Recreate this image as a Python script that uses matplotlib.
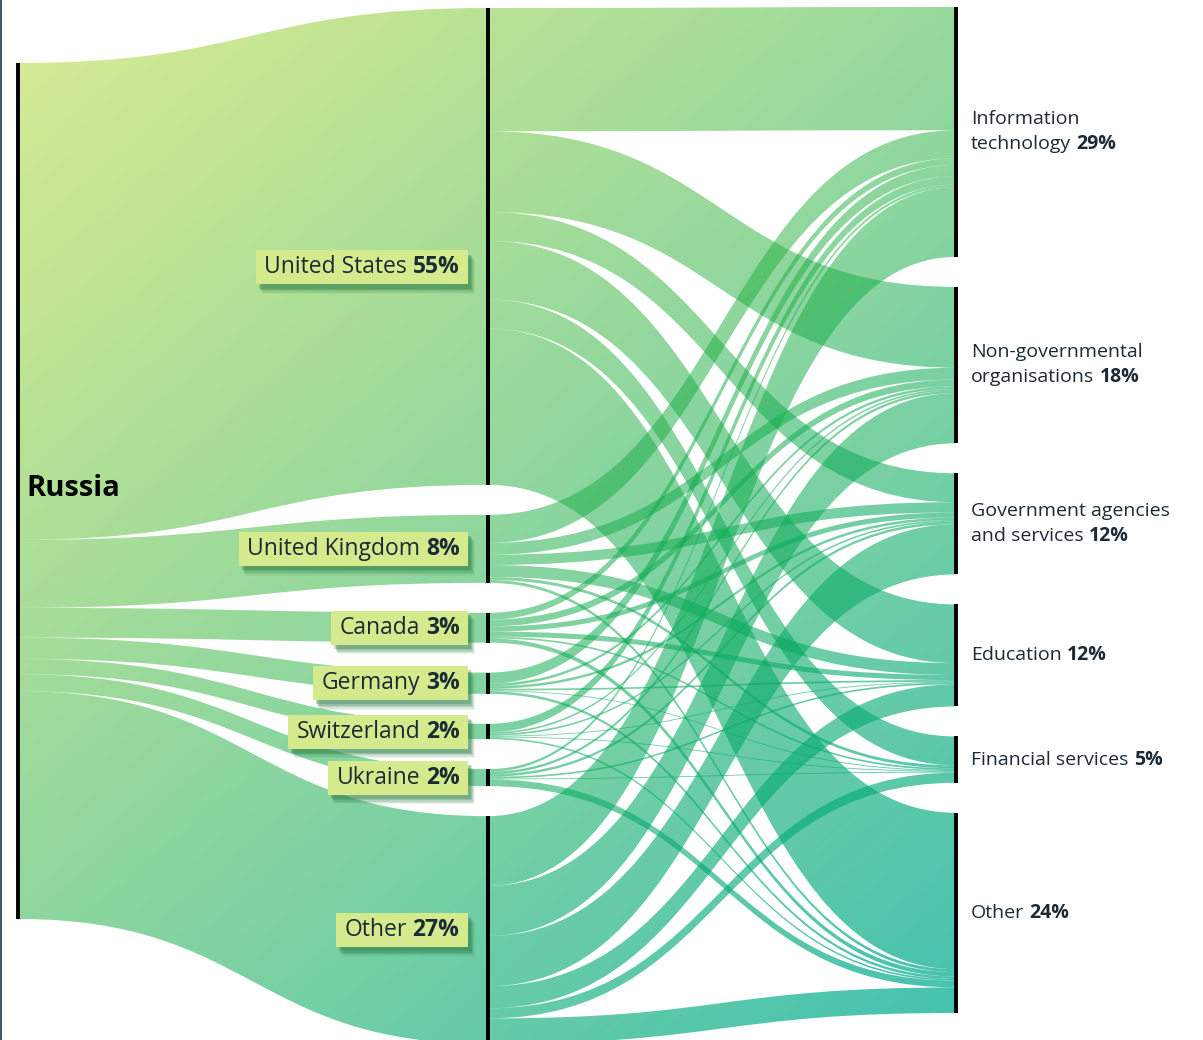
import matplotlib
matplotlib.use("Agg")
import matplotlib.pyplot as plt
import matplotlib.patheffects as pe
import numpy as np
from matplotlib.path import Path
from matplotlib.patches import PathPatch
from matplotlib.lines import Line2D
from matplotlib.offsetbox import TextArea, HPacker, VPacker, AnnotationBbox, DrawingArea

plt.rcParams['font.family'] = ['Open Sans', 'DejaVu Sans']

# ---- data (share of all, %) ----
source = 'Russia'
countries = ['United States', 'United Kingdom', 'Canada', 'Germany', 'Switzerland', 'Ukraine', 'Other']
country_pct = ['55%', '8%', '3%', '3%', '2%', '2%', '27%']
sectors = ['Information\ntechnology', 'Non-governmental\norganisations', 'Government agencies\nand services',
           'Education', 'Financial services', 'Other']
sector_pct = ['29%', '18%', '12%', '12%', '5%', '24%']

# country -> sector  (IT, NGO, Gov, Edu, Fin, Other)
us          = [14.5, 9.5, 3.4, 6.9, 3.4, 18.4]
uk          = [3.3, 1.4, 1.2, 1.4, 0.35, 0.35]
canada      = [0.8, 0.8, 0.6, 0.6, 0.2, 0.5]
germany     = [1.3, 0.3, 0.3, 0.2, 0.1, 0.3]
switzerland = [1.0, 0.2, 0.2, 0.1, 0.1, 0.2]
ukraine     = [0.3, 0.3, 0.3, 0.2, 0.1, 0.8]
other       = [8.2, 5.9, 5.9, 2.6, 1.2, 3.0]
flows = np.array([us, uk, canada, germany, switzerland, ukraine, other])

# ---- layout ----
W, H = 1203, 1040
k = 8.5            # pixels per percent
pad = 30 / k       # gap between nodes
x_src, x_mid, x_dst = 17.5, 488, 956
top_src, top_mid, top_dst = 63 / k, 8 / k, 7 / k

c_tot = flows.sum(axis=1)
s_tot = flows.sum(axis=0)
mid_y0 = top_mid + np.concatenate([[0], np.cumsum(c_tot[:-1] + pad)])
dst_y0 = top_dst + np.concatenate([[0], np.cumsum(s_tot[:-1] + pad)])
src_y0 = top_src + np.concatenate([[0], np.cumsum(c_tot[:-1])])

fig = plt.figure(figsize=(W / 100, H / 100), dpi=100)
ax = fig.add_axes([0, 0, 1, 1])
ax.set_axis_off()

# gradient: colour + alpha, diagonal from top-left to bottom-right
n = 128
gx, gy = np.meshgrid(np.linspace(0, 1, n), np.linspace(0, 1, n))
u = 0.5 * gx + 0.5 * gy
t_lo = np.array([220, 236, 140]) / 255
t_hi = np.array([50, 189, 180]) / 255
target = t_lo + (t_hi - t_lo) * u[..., None]
alpha = 0.42 + 0.40 * u ** 2
col = 1 + (target - 1) / alpha[..., None]
grad = np.dstack([np.clip(col, 0, 1), alpha])


def band(x0, x1, a0, a1, b0, b1):
    xm = (x0 + x1) / 2
    verts = [(x0, a0), (xm, a0), (xm, b0), (x1, b0), (x1, b1), (xm, b1), (xm, a1), (x0, a1), (x0, a0)]
    codes = [Path.MOVETO, Path.CURVE4, Path.CURVE4, Path.CURVE4, Path.LINETO,
             Path.CURVE4, Path.CURVE4, Path.CURVE4, Path.CLOSEPOLY]
    return Path(verts, codes)


def draw_link(path):
    patch = PathPatch(path, transform=ax.transData)
    im = ax.imshow(grad, extent=(0, W, H / k, 0), origin='upper', aspect='auto',
                   interpolation='bilinear', zorder=1)
    im.set_clip_path(patch)


# Russia -> countries
for i in range(len(countries)):
    draw_link(band(x_src, x_mid, src_y0[i], src_y0[i] + c_tot[i], mid_y0[i], mid_y0[i] + c_tot[i]))

# countries -> sectors
for i in range(len(countries)):
    for j in range(len(sectors)):
        v = flows[i, j]
        a0 = mid_y0[i] + flows[i, :j].sum()
        b0 = dst_y0[j] + flows[:i, j].sum()
        draw_link(band(x_mid, x_dst, a0, a0 + v, b0, b0 + v))

# node bars
lw = 2.8
ax.plot([x_src, x_src], [top_src, top_src + flows.sum()], color='black', lw=lw, solid_capstyle='butt', zorder=3)
for i in range(len(countries)):
    ax.plot([x_mid, x_mid], [mid_y0[i], mid_y0[i] + c_tot[i]], color='black', lw=lw, solid_capstyle='butt', zorder=3)
for j in range(len(sectors)):
    ax.plot([x_dst, x_dst], [dst_y0[j], dst_y0[j] + s_tot[j]], color='black', lw=lw, solid_capstyle='butt', zorder=3)

txt_col = '#1c2a35'

# Russia label
ax.text(26, top_src + flows.sum() / 2 - 0.3, source, fontsize=21, fontweight='bold', color='black',
        va='center', ha='left', zorder=5)

# country labels with boxes
fs_c = 16.5
box_pad = 0.36          # fraction of 10pt
pad_px = box_pad * 10 / 72 * 100
nudge = [21, 0, 0, 0, 0, 0, 0]   # px
for i, name in enumerate(countries):
    t1 = TextArea(name, textprops=dict(fontsize=fs_c, color=txt_col))
    t2 = TextArea(country_pct[i], textprops=dict(fontsize=fs_c, color=txt_col, fontweight='bold'))
    inner = HPacker(children=[t1, t2], align='baseline', pad=0, sep=4)
    box = HPacker(children=[DrawingArea(2.5, 1), inner, DrawingArea(2.5, 1)], align='center', pad=0, sep=0)
    yc = mid_y0[i] + c_tot[i] / 2 + nudge[i] / k
    ab = AnnotationBbox(box, (468 - pad_px, yc), xycoords='data', box_alignment=(1, 0.5), frameon=True,
                        bboxprops=dict(facecolor='#d5ea8c', edgecolor='none', boxstyle='square,pad=%.2f' % box_pad),
                        zorder=6)
    ab.patch.set_path_effects([
        pe.SimplePatchShadow(offset=(5, -7), shadow_rgbFace='#2e7d45', alpha=0.08),
        pe.SimplePatchShadow(offset=(4, -6), shadow_rgbFace='#2e7d45', alpha=0.12),
        pe.SimplePatchShadow(offset=(3.5, -5), shadow_rgbFace='#2e7d45', alpha=0.18),
        pe.SimplePatchShadow(offset=(3, -4), shadow_rgbFace='#2e7d45', alpha=0.22),
        pe.SimplePatchShadow(offset=(2, -3), shadow_rgbFace='#2e7d45', alpha=0.28),
        pe.Normal()])
    ax.add_artist(ab)

# sector labels
fs_s = 14
for j, name in enumerate(sectors):
    lines = name.split('\n')
    rows = [TextArea(l, textprops=dict(fontsize=fs_s, color=txt_col)) for l in lines[:-1]]
    last = HPacker(children=[TextArea(lines[-1], textprops=dict(fontsize=fs_s, color=txt_col)),
                             TextArea(sector_pct[j], textprops=dict(fontsize=fs_s, color=txt_col, fontweight='bold'))],
                   align='baseline', pad=0, sep=4)
    rows.append(last)
    vb = VPacker(children=rows, align='left', pad=0, sep=4.5)
    ab = AnnotationBbox(vb, (971, dst_y0[j] + s_tot[j] / 2), xycoords='data', box_alignment=(0, 0.5),
                        frameon=False, zorder=6)
    ax.add_artist(ab)

ax.set_xlim(0, W)
ax.set_ylim(H / k, 0)

fig.add_artist(Line2D([0.0008, 0.0008], [0, 1], color='#253545', lw=1.2, transform=fig.transFigure))

fig.savefig('out.png', dpi=100)
